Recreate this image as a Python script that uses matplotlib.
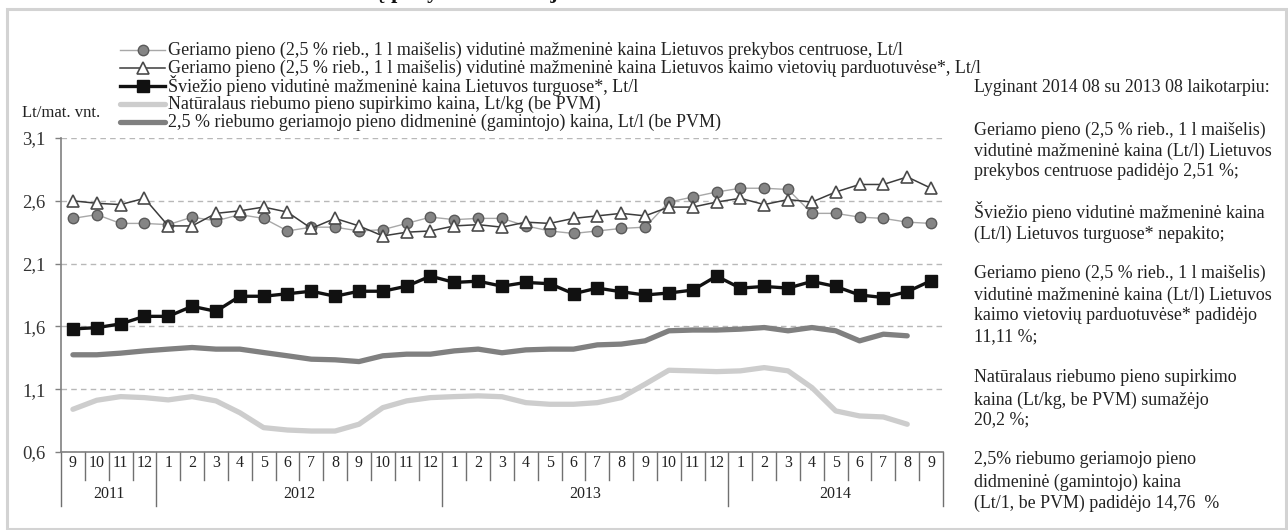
import numpy as np
import matplotlib
matplotlib.use('Agg')
import matplotlib.pyplot as plt
from matplotlib.lines import Line2D
from matplotlib.patches import Rectangle

plt.rcParams['font.family'] = ['Liberation Serif', 'DejaVu Serif']

# data: months 2011-09 .. 2014-09
months = ['9', '10', '11', '12'] + [str(m) for m in range(1, 13)] * 2 + [str(m) for m in range(1, 10)]
years = ['2011', '2012', '2013', '2014']
year_len = [4, 12, 12, 9]

retail_centres = [2.46, 2.49, 2.42, 2.42, 2.41, 2.47, 2.44, 2.49, 2.46, 2.36, 2.39, 2.39, 2.36,
                  2.37, 2.42, 2.47, 2.45, 2.46, 2.46, 2.40, 2.36, 2.34, 2.36, 2.38, 2.39, 2.59,
                  2.63, 2.67, 2.70, 2.70, 2.69, 2.50, 2.50, 2.47, 2.46, 2.43, 2.42]
retail_rural = [2.60, 2.58, 2.57, 2.62, 2.40, 2.40, 2.50, 2.52, 2.55, 2.51, 2.38, 2.46, 2.40,
                2.32, 2.35, 2.36, 2.40, 2.41, 2.39, 2.43, 2.42, 2.46, 2.48, 2.50, 2.48, 2.55,
                2.55, 2.59, 2.62, 2.57, 2.61, 2.59, 2.67, 2.73, 2.73, 2.79, 2.70]
fresh_market = [1.58, 1.59, 1.62, 1.68, 1.68, 1.76, 1.72, 1.84, 1.84, 1.86, 1.88, 1.84, 1.88,
                1.88, 1.92, 2.00, 1.95, 1.96, 1.92, 1.95, 1.94, 1.86, 1.905, 1.876, 1.85, 1.866,
                1.889, 2.00, 1.905, 1.918, 1.905, 1.958, 1.918, 1.85, 1.83, 1.876, 1.964]
purchase = [0.94, 1.012, 1.041, 1.033, 1.015, 1.041, 1.007, 0.913, 0.794, 0.775, 0.767, 0.767,
            0.821, 0.953, 1.007, 1.033, 1.041, 1.047, 1.04, 0.993, 0.98, 0.98, 0.993, 1.033,
            1.14, 1.251, 1.246, 1.24, 1.246, 1.272, 1.246, 1.113, 0.927, 0.887, 0.879, 0.821]
wholesale = [1.374, 1.374, 1.387, 1.405, 1.419, 1.432, 1.419, 1.419, 1.392, 1.366, 1.339, 1.334,
             1.32, 1.366, 1.379, 1.379, 1.405, 1.419, 1.39, 1.413, 1.419, 1.419, 1.453, 1.459,
             1.485, 1.565, 1.571, 1.571, 1.578, 1.591, 1.565, 1.591, 1.565, 1.485, 1.538, 1.525]

labels = ['Geriamo pieno (2,5 % rieb., 1 l maišelis) vidutinė mažmeninė kaina Lietuvos prekybos centruose, Lt/l',
          'Geriamo pieno (2,5 % rieb., 1 l maišelis) vidutinė mažmeninė kaina Lietuvos kaimo vietovių parduotuvėse*, Lt/l',
          'Šviežio pieno vidutinė mažmeninė kaina Lietuvos turguose*, Lt/l',
          'Natūralaus riebumo pieno supirkimo kaina, Lt/kg (be PVM)',
          '2,5 % riebumo geriamojo pieno didmeninė (gamintojo) kaina, Lt/l (be PVM)']

note_lines = [
    ['Lyginant 2014 08 su 2013 08 laikotarpiu:'],
    ['Geriamo pieno (2,5 % rieb., 1 l maišelis)', 'vidutinė mažmeninė kaina (Lt/l) Lietuvos',
     'prekybos centruose padidėjo 2,51 %;'],
    ['Šviežio pieno vidutinė mažmeninė kaina', '(Lt/l) Lietuvos turguose* nepakito;'],
    ['Geriamo pieno (2,5 % rieb., 1 l maišelis)', 'vidutinė mažmeninė kaina (Lt/l) Lietuvos',
     'kaimo vietovių parduotuvėse* padidėjo', '11,11 %;'],
    ['Natūralaus riebumo pieno supirkimo', 'kaina (Lt/kg, be PVM) sumažėjo', '20,2 %;'],
    ['2,5% riebumo geriamojo pieno', 'didmeninė (gamintojo) kaina', '(Lt/1, be PVM) padidėjo 14,76  %'],
]

W, H = 1288, 530
fig = plt.figure(figsize=(W / 100, H / 100), dpi=100)
fig.patch.set_facecolor('white')

def fx(px):
    return px / W

def fy(py):
    return 1 - py / H

ax = fig.add_axes([fx(61), fy(452), fx(943) - fx(61), fy(138) - fy(452)])

styles = [
    dict(color='#a8a8a8', lw=1.0, marker='o', ms=7.5, mfc='#858585', mec='#5a5a5a', mew=1.0),
    dict(color='#3c3c3c', lw=1.1, marker='^', ms=9, mfc='white', mec='#4a4a4a', mew=1.2),
    dict(color='#111111', lw=2.4, marker='s', ms=8, mfc='#111111', mec='#111111'),
    dict(color='#cdcdcd', lw=3.8, solid_joinstyle='round', solid_capstyle='round'),
    dict(color='#808080', lw=3.8, solid_joinstyle='round', solid_capstyle='round'),
]
series = [retail_centres, retail_rural, fresh_market, purchase, wholesale]

x = np.arange(len(months))
for vals, st in zip(series, styles):
    ax.plot(x[:len(vals)], vals, clip_on=False, **st)

ax.set_xlim(-0.5, len(months) - 0.5)
ax.set_ylim(0.6, 3.1)
yt = [0.6, 1.1, 1.6, 2.1, 2.6, 3.1]
ax.set_yticks(yt, labels=[f'{v:.1f}'.replace('.', ',') for v in yt])
ax.tick_params(axis='y', length=4, width=1, color='#808080', labelsize=13.5, pad=7,
               labelcolor='#333333')
ax.set_xticks(x, labels=months)
ax.tick_params(axis='x', length=0, labelsize=11.5, pad=8, labelcolor='#222222')
for t in ax.get_xticklabels():
    t.set_verticalalignment('center')
ax.set_axisbelow(True)
ax.yaxis.grid(True, ls=(0, (4, 3)), color='#b8b8b8', lw=1)
for s in ['top', 'right']:
    ax.spines[s].set_visible(False)
for s in ['left', 'bottom']:
    ax.spines[s].set_color('#808080')
    ax.spines[s].set_linewidth(1.2)

# category separators
tr = ax.get_xaxis_transform()
bounds = np.cumsum([0] + year_len) - 0.5
for b in np.arange(-0.5, len(months)):
    deep = b in bounds
    ax.plot([b, b], [0, -54 / 314 if deep else -28 / 314], transform=tr, color='#707070',
            lw=1, clip_on=False)
for yr, a, b in zip(years, bounds[:-1], bounds[1:]):
    ax.text((a + b) / 2, -42 / 314, yr, transform=tr, ha='center', va='center',
            fontsize=11.5, color='#222222')

fig.text(fx(22), fy(113), 'Lt/mat. vnt.', fontsize=12, va='center', ha='left', color='#222222')

# legend drawn by hand
for i, (lab, st) in enumerate(zip(labels, styles)):
    yy = fy(50 + 18 * i)
    line_kw = {k: v for k, v in st.items() if k not in ('marker', 'ms', 'mfc', 'mec', 'mew')}
    fig.add_artist(Line2D([fx(120), fx(165)], [yy, yy], transform=fig.transFigure, **line_kw))
    if 'marker' in st:
        fig.add_artist(Line2D([fx(142.5)], [yy], transform=fig.transFigure, ls='none',
                              marker=st['marker'], ms=st['ms'], mfc=st['mfc'], mec=st['mec'],
                              mew=st.get('mew', 1)))
    fig.text(fx(168), yy, lab, fontsize=13, va='center', ha='left', color='#222222')

# notes on the right
note_y = [[87], [130, 151, 171], [211, 234], [273, 295, 316, 337], [378, 400, 420], [460, 482, 503]]
for para, ys in zip(note_lines, note_y):
    for line, yy in zip(para, ys):
        fig.text(fx(974), fy(yy), line, fontsize=12.9, va='center', ha='left', color='#222222')

# clipped title at the top
fig.text(fx(272), 1 + 2 / H, 'Pieno kainų pokyčiai Lietuvoje', fontsize=16, fontweight='bold',
         va='baseline', ha='left', color='#111111')

# frame
fig.add_artist(Rectangle((fx(6.5), fy(528.5)), fx(1286) - fx(6.5), fy(8.5) - fy(528.5),
                         transform=fig.transFigure, fill=False, ec='#d3d3d3', lw=2.2))

fig.savefig('out.png', dpi=100)
